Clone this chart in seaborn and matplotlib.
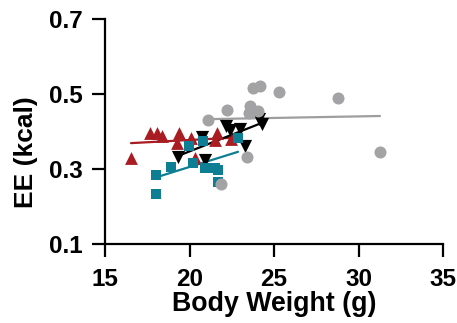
import numpy as np
import pandas as pd
import matplotlib
matplotlib.use("Agg")
import matplotlib.pyplot as plt
import seaborn as sns

# ---- data ----
red_x = [16.54, 17.66, 18.08, 18.37, 19.38, 19.26, 20.09, 21.63, 21.51, 22.46, 20.33]
red_y = [0.329, 0.396, 0.396, 0.388, 0.396, 0.369, 0.383, 0.396, 0.377, 0.380, 0.329]

black_x = [19.32, 20.74, 20.92, 22.16, 22.40, 22.99, 23.28, 24.11, 24.29]
black_y = [0.332, 0.385, 0.324, 0.415, 0.404, 0.407, 0.361, 0.433, 0.420]

blue_x = [18.02, 18.02, 18.91, 19.97, 20.21, 20.80, 20.92, 21.51, 21.69, 21.69, 22.87]
blue_y = [0.284, 0.233, 0.305, 0.361, 0.316, 0.375, 0.303, 0.303, 0.297, 0.265, 0.383]

gray_x = [21.09, 22.22, 23.76, 24.17, 25.30, 23.58, 23.52, 24.05, 28.79, 31.27, 23.40, 21.86]
gray_y = [0.431, 0.457, 0.516, 0.521, 0.505, 0.468, 0.449, 0.455, 0.489, 0.345, 0.332, 0.260]

groups = ["red", "black", "blue", "gray"]
colors = {"red": "#A81C22", "black": "#000000", "blue": "#0E7E94", "gray": "#A3A3A5"}
line_colors = {"red": "#A81C22", "black": "#000000", "blue": "#0E7E94", "gray": "#9E9E9E"}
markers = {"red": "^", "black": "v", "blue": "s", "gray": "o"}
sizes = {"red": 85, "black": 90, "blue": 62, "gray": 75}

x_ticks = [15, 20, 25, 30, 35]
y_ticks = [0.1, 0.3, 0.5, 0.7]

data = {"red": (red_x, red_y), "black": (black_x, black_y),
        "blue": (blue_x, blue_y), "gray": (gray_x, gray_y)}

sns.set_style("ticks")
plt.rcParams['font.family'] = ['Liberation Sans', 'DejaVu Sans']
plt.rcParams['font.weight'] = 'bold'
plt.rcParams['text.color'] = 'black'
plt.rcParams['axes.labelcolor'] = 'black'
plt.rcParams['xtick.color'] = 'black'
plt.rcParams['ytick.color'] = 'black'

fig = plt.figure(figsize=(4.57, 3.23), dpi=100)
ax = fig.add_axes([105/457, 1-244/323, 338/457, 225/323])

# regression lines
for g in groups:
    xs, ys = data[g]
    df = pd.DataFrame({"x": xs, "y": ys})
    sns.regplot(data=df, x="x", y="y", ax=ax, scatter=False, ci=None, truncate=True,
                color=line_colors[g], line_kws={"linewidth": 1.6, "zorder": 1})

# points
for g in groups:
    xs, ys = data[g]
    df = pd.DataFrame({"x": xs, "y": ys})
    sns.scatterplot(data=df, x="x", y="y", ax=ax, color=colors[g], marker=markers[g],
                    s=sizes[g], linewidth=0, zorder=2)

ax.set_xlim(15, 35)
ax.set_ylim(0.1, 0.7)
ax.set_xticks(x_ticks)
ax.set_yticks(y_ticks)
ax.set_xticklabels([str(t) for t in x_ticks])
ax.set_yticklabels([f"{t:.1f}" for t in y_ticks])

for s in ["top", "right"]:
    ax.spines[s].set_visible(False)
for s in ["left", "bottom"]:
    ax.spines[s].set_linewidth(1.6)
    ax.spines[s].set_color("black")

ax.tick_params(axis="both", direction="out", length=9.5, width=1.6, color="black",
               labelsize=17.5, labelcolor="black")
ax.tick_params(axis="x", pad=7.5)
ax.tick_params(axis="y", pad=6.5)
for lab in ax.get_xticklabels() + ax.get_yticklabels():
    lab.set_fontweight("bold")

ax.set_xlabel("Body Weight (g)", fontsize=19.3, fontweight="bold", color="black", labelpad=0)
ax.set_ylabel("EE (kcal)", fontsize=19, fontweight="bold", color="black")
ax.yaxis.set_label_coords(-0.197, 0.41)

fig.savefig("out.png", dpi=100)
